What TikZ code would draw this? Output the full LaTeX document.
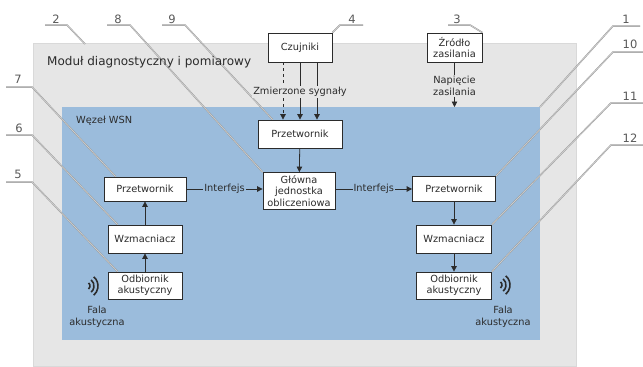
\documentclass[tikz,border=0pt]{standalone}
\usepackage{fontspec}
\setmainfont{DejaVu Sans}
\usetikzlibrary{arrows.meta,calc}
\definecolor{graybg}{HTML}{E6E6E6}
\definecolor{bluebg}{HTML}{9BBCDC}
\definecolor{txt}{HTML}{2B2B2B}
\definecolor{lead}{HTML}{9A9A9A}
\definecolor{leadcore}{HTML}{D8D8D8}
\begin{document}
\begin{tikzpicture}[x=1pt,y=-1pt,
 font=\fontsize{9.8}{11.5}\selectfont,
 box/.style={draw=txt,fill=white,line width=0.8pt,inner sep=0pt,align=center,text=txt},
 lbl/.style={text=txt,align=center,inner sep=1pt},
 arr/.style={draw=txt,line width=0.8pt,-{Triangle[length=5.5pt,width=5.5pt]}},
 con/.style={draw=txt,line width=0.8pt},
 leader/.style={draw=lead,line width=1.5pt,postaction={draw=leadcore,line width=0.5pt}},
 num/.style={text=black!65,font=\fontsize{11.5}{13}\selectfont,inner sep=0pt},
 wave/.style={draw=txt,line width=1.6pt}
]
\useasboundingbox (0,0) rectangle (643,367);
\fill[white] (0,0) rectangle (643,367);
% backgrounds
\fill[graybg,draw=black!15] (33,43) rectangle (576,366);
\fill[bluebg] (62,107) rectangle (540,340);
\coordinate (blueNE) at (540,107);
\coordinate (grayN) at (85,44);

% boxes (defined first so leaders can refer to them)
\path
 (300,47.5) node[box,minimum width=64pt,minimum height=29pt] (czuj) {Czujniki}
 (454.5,47.5) node[box,minimum width=55pt,minimum height=29pt] (zrodlo) {Źródło\\zasilania}
 (300,134) node[box,minimum width=84pt,minimum height=28pt] (przU) {Przetwornik}
 (299,191) node[box,minimum width=72pt,minimum height=37pt] (glowna) {Główna\\jednostka\\obliczeniowa}
 (145,189) node[box,minimum width=82pt,minimum height=24pt] (przL) {Przetwornik}
 (145,239) node[box,minimum width=74pt,minimum height=28pt] (wzmL) {Wzmacniacz}
 (145,285.5) node[box,minimum width=74pt,minimum height=27pt] (odbL) {Odbiornik\\akustyczny}
 (454,189) node[box,minimum width=83pt,minimum height=25pt] (przR) {Przetwornik}
 (454,239) node[box,minimum width=75pt,minimum height=28pt] (wzmR) {Wzmacniacz}
 (454,285.5) node[box,minimum width=75pt,minimum height=27pt] (odbR) {Odbiornik\\akustyczny};

% number labels
\node[num] (n2) at (56,19) {2};
\node[num] (n8) at (118,19) {8};
\node[num] (n9) at (172,19) {9};
\node[num] (n4) at (352,19) {4};
\node[num] (n3) at (457,19) {3};
\node[num] (n1) at (626,19) {1};
\node[num] (n10) at (630,44) {10};
\node[num] (n11) at (630,96) {11};
\node[num] (n12) at (630,138) {12};
\node[num] (n7) at (18,79) {7};
\node[num] (n6) at (19,128) {6};
\node[num] (n5) at (18,174) {5};

% leader lines
\draw[leader] ($(n2)+(-11,6)$) -- ($(n2)+(11,6)$) -- (grayN);
\draw[leader] ($(n8)+(-11,6)$) -- ($(n8)+(12,6)$) -- (glowna.north west);
\draw[leader] ($(n9)+(-10,6)$) -- ($(n9)+(13,6)$) -- ($(przU.north west)+(15,0)$);
\draw[leader] ($(n4)+(11,6)$) -- ($(n4)+(-12,6)$) -- (czuj.north east);
\draw[leader] ($(n3)+(-9,6)$) -- ($(n3)+(13,6)$) -- (zrodlo.north east);
\draw[leader] ($(n1)+(14,7)$) -- ($(n1)+(-13,7)$) -- (blueNE);
\draw[leader] ($(n10)+(13,8)$) -- ($(n10)+(-17,8)$) -- (przR.north east);
\draw[leader] ($(n11)+(13,7)$) -- ($(n11)+(-19,7)$) -- (wzmR.north east);
\draw[leader] ($(n12)+(13,7)$) -- ($(n12)+(-19,7)$) -- (odbR.north east);
\draw[leader] ($(n7)+(-12,8)$) -- ($(n7)+(14,8)$) -- ($(przL.north west)+(12,0)$);
\draw[leader] ($(n6)+(-13,7)$) -- ($(n6)+(13,7)$) -- ($(wzmL.north west)+(10,0)$);
\draw[leader] ($(n5)+(-12,8)$) -- ($(n5)+(14,8)$) -- ($(odbL.north west)+(10,0)$);

% region titles
\node[lbl,anchor=west,font=\fontsize{12}{14}\selectfont] (modul) at (46,62) {Moduł diagnostyczny i pomiarowy};
\node[lbl,anchor=west] (wezel) at (75,121) {Węzeł WSN};

% redraw boxes on top of leaders
\path
 (300,47.5) node[box,minimum width=64pt,minimum height=29pt] (czuj) {Czujniki}
 (454.5,47.5) node[box,minimum width=55pt,minimum height=29pt] (zrodlo) {Źródło\\zasilania}
 (300,134) node[box,minimum width=84pt,minimum height=28pt] (przU) {Przetwornik}
 (299,191) node[box,minimum width=72pt,minimum height=37pt] (glowna) {Główna\\jednostka\\obliczeniowa}
 (145,189) node[box,minimum width=82pt,minimum height=24pt] (przL) {Przetwornik}
 (145,239) node[box,minimum width=74pt,minimum height=28pt] (wzmL) {Wzmacniacz}
 (145,285.5) node[box,minimum width=74pt,minimum height=27pt] (odbL) {Odbiornik\\akustyczny}
 (454,189) node[box,minimum width=83pt,minimum height=25pt] (przR) {Przetwornik}
 (454,239) node[box,minimum width=75pt,minimum height=28pt] (wzmR) {Wzmacniacz}
 (454,285.5) node[box,minimum width=75pt,minimum height=27pt] (odbR) {Odbiornik\\akustyczny};

% sensor signals
\draw[arr,dashed] ($(czuj.south)+(-17,0)$) -- ($(przU.north)+(-17,0)$);
\draw[arr] (czuj.south) -- (przU.north);
\draw[arr] ($(czuj.south)+(17,0)$) -- ($(przU.north)+(17,0)$);
\node[lbl,fill=graybg] (zmier) at (300,92) {Zmierzone sygnały};

% power
\node[lbl] (napiecie) at (454.5,86) {Napięcie\\zasilania};
\draw[con] (zrodlo.south) -- (napiecie.north);
\coordinate (wtop) at (454.5,107);
\draw[arr] (napiecie.south) -- (wtop);

% main flow
\draw[arr] (przU) -- (glowna);
\draw[arr] (przL.east) -- node[lbl,fill=bluebg] (ifL) {Interfejs} (przL.east -| glowna.west);
\draw[arr] (glowna.east |- przR.west) -- node[lbl,fill=bluebg] (ifR) {Interfejs} (przR.west);
\draw[arr] (odbL) -- (wzmL);
\draw[arr] (wzmL) -- (przL);
\draw[arr] (przR) -- (wzmR);
\draw[arr] (wzmR) -- (odbR);

% acoustic waves
\coordinate (wL) at (86,286);
\coordinate (wR) at (498,285);
\foreach \r in {4,8,12} {
  \draw[wave] ($(wL)+(-50:\r)$) arc[start angle=-50,end angle=50,radius=\r];
  \draw[wave] ($(wR)+(-50:\r)$) arc[start angle=-50,end angle=50,radius=\r];
}
\node[lbl] (falaL) at (97,317) {Fala\\akustyczna};
\node[lbl] (falaR) at (503,317) {Fala\\akustyczna};
\end{tikzpicture}
\end{document}
